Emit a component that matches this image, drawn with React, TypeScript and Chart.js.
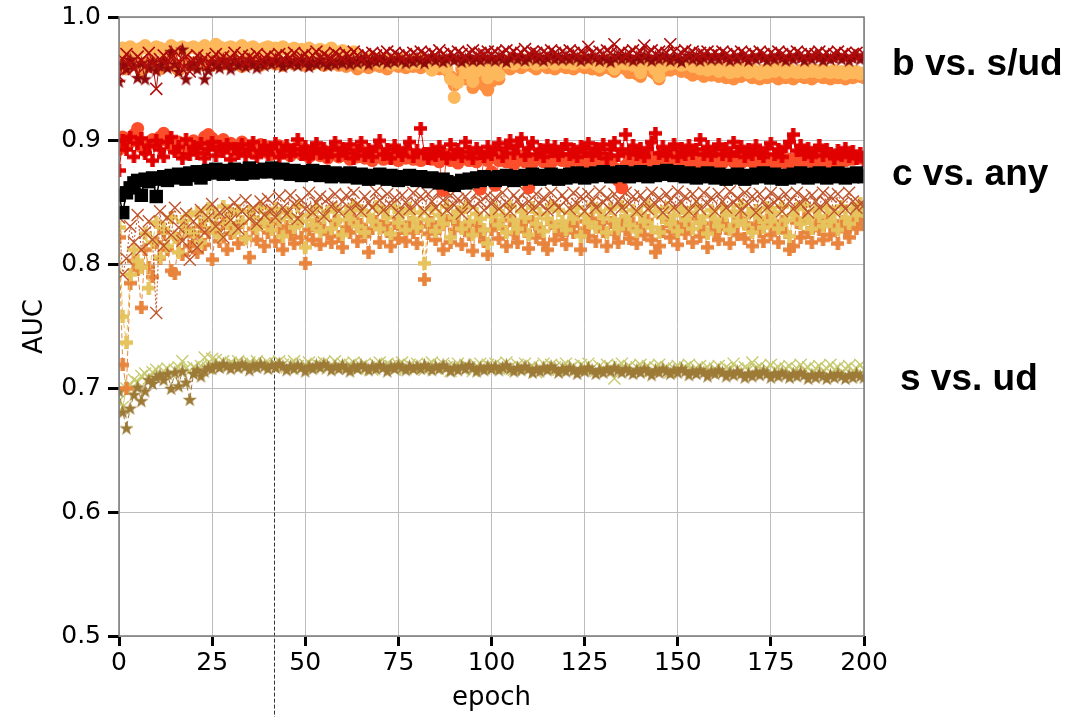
import React, { useEffect, useRef } from 'react';
import { Chart, registerables } from 'chart.js';
Chart.register(...registerables);

// ---------- data (AUC per epoch, epochs 0..200) ----------
const epochs: number[] = Array.from({ length: 201 }, (_, i) => i);

// b vs. s/ud
const bLightCircles = [
  0.968,0.975,0.973,0.976,0.974,0.972,0.975,0.977,0.974,0.973, 0.976,0.975,0.972,0.974,0.977,0.975,0.973,0.976,0.974,0.975,
  0.976,0.974,0.975,0.977,0.973,0.975,0.978,0.976,0.974,0.975, 0.976,0.973,0.975,0.977,0.974,0.975,0.976,0.974,0.973,0.975,
  0.976,0.974,0.975,0.973,0.976,0.974,0.972,0.975,0.973,0.974, 0.972,0.975,0.973,0.971,0.974,0.972,0.973,0.975,0.972,0.970,
  0.973,0.971,0.968,0.972,0.965,0.962,0.966,0.964,0.967,0.965, 0.963,0.966,0.964,0.962,0.965,0.963,0.966,0.964,0.962,0.965,
  0.963,0.966,0.964,0.962,0.957,0.963,0.961,0.964,0.958,0.950, 0.935,0.947,0.962,0.955,0.963,0.948,0.956,0.960,0.958,0.951,
  0.960,0.958,0.953,0.964,0.963,0.965,0.962,0.964,0.966,0.963, 0.965,0.964,0.962,0.965,0.963,0.966,0.964,0.962,0.965,0.964,
  0.963,0.965,0.962,0.964,0.966,0.963,0.965,0.964,0.962,0.960, 0.963,0.965,0.962,0.958,0.963,0.965,0.962,0.964,0.961,0.963,
  0.955,0.962,0.964,0.961,0.957,0.952,0.960,0.963,0.962,0.964, 0.963,0.961,0.962,0.964,0.960,0.962,0.958,0.960,0.957,0.959,
  0.958,0.956,0.959,0.957,0.955,0.958,0.956,0.959,0.957,0.955, 0.958,0.956,0.954,0.957,0.955,0.958,0.956,0.959,0.957,0.955,
  0.958,0.956,0.955,0.957,0.955,0.958,0.956,0.957,0.955,0.958, 0.956,0.955,0.957,0.955,0.956,0.954,0.957,0.955,0.956,0.954, 0.955,
];
const bDarkCircles = [
  0.960,0.963,0.958,0.962,0.965,0.961,0.956,0.963,0.960,0.964, 0.962,0.958,0.963,0.961,0.965,0.960,0.957,0.962,0.964,0.961,
  0.963,0.960,0.964,0.962,0.965,0.961,0.963,0.966,0.962,0.964, 0.961,0.965,0.963,0.960,0.964,0.962,0.965,0.963,0.961,0.964,
  0.963,0.965,0.962,0.964,0.961,0.963,0.965,0.962,0.964,0.963, 0.961,0.964,0.962,0.965,0.963,0.961,0.964,0.962,0.963,0.961,
  0.962,0.960,0.963,0.961,0.958,0.960,0.962,0.959,0.961,0.963, 0.960,0.962,0.958,0.961,0.963,0.960,0.962,0.959,0.961,0.960,
  0.962,0.959,0.961,0.963,0.960,0.962,0.958,0.961,0.957,0.952, 0.945,0.950,0.958,0.950,0.960,0.943,0.956,0.953,0.945,0.941,
  0.948,0.955,0.950,0.959,0.961,0.958,0.960,0.962,0.959,0.961, 0.963,0.960,0.958,0.961,0.962,0.959,0.961,0.958,0.960,0.962,
  0.959,0.961,0.958,0.960,0.962,0.959,0.961,0.958,0.960,0.957, 0.959,0.961,0.958,0.956,0.959,0.961,0.958,0.955,0.957,0.954,
  0.952,0.957,0.959,0.956,0.954,0.950,0.956,0.959,0.957,0.960, 0.958,0.956,0.958,0.955,0.953,0.956,0.954,0.952,0.955,0.953,
  0.954,0.952,0.955,0.951,0.953,0.950,0.954,0.952,0.955,0.953, 0.951,0.954,0.950,0.953,0.951,0.954,0.952,0.950,0.953,0.951,
  0.953,0.950,0.952,0.954,0.951,0.953,0.950,0.952,0.954,0.951, 0.953,0.950,0.952,0.951,0.953,0.950,0.952,0.951,0.953,0.952, 0.951,
];
const bDarkRedX = [
  0.952,0.966,0.970,0.962,0.958,0.968,0.965,0.960,0.971,0.963, 0.942,0.966,0.969,0.961,0.967,0.972,0.964,0.958,0.968,0.956,
  0.965,0.969,0.963,0.967,0.961,0.966,0.970,0.964,0.968,0.962, 0.967,0.971,0.965,0.969,0.963,0.968,0.966,0.970,0.964,0.967,
  0.969,0.965,0.968,0.970,0.966,0.969,0.967,0.971,0.965,0.968, 0.970,0.966,0.969,0.972,0.967,0.970,0.968,0.966,0.971,0.969,
  0.967,0.970,0.968,0.972,0.969,0.966,0.970,0.968,0.971,0.969, 0.967,0.970,0.972,0.968,0.971,0.969,0.967,0.970,0.968,0.971,
  0.969,0.972,0.970,0.968,0.971,0.969,0.973,0.970,0.968,0.971, 0.969,0.972,0.970,0.968,0.971,0.973,0.969,0.971,0.970,0.972,
  0.970,0.972,0.969,0.971,0.973,0.970,0.972,0.969,0.971,0.974, 0.970,0.972,0.971,0.969,0.972,0.970,0.973,0.971,0.969,0.972,
  0.970,0.973,0.971,0.969,0.972,0.970,0.976,0.971,0.969,0.972, 0.970,0.973,0.971,0.978,0.970,0.972,0.969,0.971,0.973,0.970,
  0.972,0.977,0.971,0.973,0.970,0.972,0.969,0.971,0.978,0.972, 0.969,0.971,0.973,0.970,0.972,0.969,0.971,0.970,0.972,0.969,
  0.971,0.969,0.972,0.970,0.968,0.971,0.969,0.972,0.970,0.968, 0.971,0.969,0.972,0.970,0.968,0.971,0.969,0.972,0.970,0.968,
  0.971,0.969,0.972,0.970,0.968,0.971,0.969,0.970,0.972,0.969, 0.971,0.968,0.970,0.972,0.969,0.971,0.968,0.970,0.971,0.969, 0.970,
];
const bDarkRedStars = [
  0.948,0.962,0.958,0.966,0.960,0.951,0.963,0.950,0.959,0.964, 0.957,0.961,0.965,0.959,0.972,0.962,0.956,0.974,0.950,0.961,
  0.963,0.958,0.965,0.950,0.957,0.964,0.961,0.959,0.966,0.962, 0.958,0.965,0.961,0.963,0.960,0.966,0.962,0.959,0.964,0.961,
  0.965,0.962,0.966,0.963,0.960,0.965,0.962,0.964,0.961,0.966, 0.963,0.960,0.964,0.962,0.966,0.963,0.961,0.965,0.962,0.964,
  0.963,0.966,0.962,0.965,0.963,0.967,0.964,0.962,0.966,0.964, 0.967,0.965,0.963,0.966,0.964,0.967,0.965,0.963,0.966,0.964,
  0.967,0.965,0.963,0.966,0.968,0.965,0.967,0.964,0.966,0.968, 0.965,0.967,0.964,0.966,0.968,0.965,0.967,0.965,0.968,0.966,
  0.967,0.965,0.968,0.966,0.964,0.967,0.969,0.966,0.968,0.965, 0.967,0.969,0.966,0.968,0.965,0.967,0.969,0.966,0.968,0.966,
  0.968,0.966,0.969,0.967,0.965,0.968,0.966,0.969,0.967,0.965, 0.968,0.966,0.964,0.967,0.969,0.966,0.968,0.967,0.965,0.968,
  0.966,0.969,0.967,0.965,0.968,0.966,0.969,0.967,0.965,0.968, 0.966,0.964,0.967,0.969,0.966,0.968,0.965,0.967,0.969,0.966,
  0.968,0.966,0.969,0.967,0.965,0.968,0.966,0.969,0.967,0.965, 0.968,0.966,0.969,0.967,0.965,0.968,0.966,0.969,0.967,0.965,
  0.968,0.966,0.969,0.967,0.965,0.968,0.966,0.969,0.967,0.965, 0.968,0.966,0.967,0.969,0.966,0.968,0.965,0.967,0.969,0.966, 0.968,
];

// c vs. any
const cRedCircles = [
  0.893,0.903,0.897,0.899,0.905,0.910,0.895,0.892,0.898,0.901, 0.897,0.903,0.906,0.900,0.896,0.893,0.899,0.891,0.897,0.894,
  0.900,0.896,0.893,0.903,0.905,0.902,0.899,0.896,0.901,0.894, 0.898,0.892,0.895,0.899,0.893,0.896,0.890,0.894,0.897,0.891,
  0.895,0.889,0.893,0.896,0.890,0.894,0.888,0.892,0.895,0.889, 0.893,0.887,0.891,0.894,0.888,0.892,0.886,0.890,0.893,0.887,
  0.891,0.888,0.885,0.890,0.887,0.892,0.886,0.889,0.884,0.888, 0.891,0.885,0.889,0.886,0.890,0.884,0.888,0.886,0.890,0.885,
  0.888,0.884,0.887,0.890,0.885,0.888,0.883,0.860,0.889,0.884, 0.887,0.882,0.886,0.889,0.884,0.887,0.883,0.861,0.888,0.884,
  0.875,0.864,0.884,0.887,0.883,0.886,0.881,0.885,0.888,0.883, 0.862,0.882,0.885,0.887,0.883,0.886,0.882,0.885,0.888,0.884,
  0.886,0.882,0.885,0.888,0.883,0.886,0.881,0.885,0.887,0.883, 0.886,0.882,0.885,0.878,0.868,0.862,0.880,0.885,0.882,0.886,
  0.883,0.885,0.881,0.886,0.884,0.887,0.882,0.885,0.883,0.886, 0.881,0.884,0.887,0.883,0.885,0.882,0.886,0.884,0.881,0.885,
  0.883,0.886,0.882,0.885,0.887,0.883,0.886,0.882,0.884,0.887, 0.883,0.885,0.882,0.886,0.884,0.881,0.885,0.883,0.886,0.882,
  0.885,0.883,0.886,0.882,0.884,0.887,0.883,0.885,0.882,0.886, 0.884,0.881,0.885,0.883,0.886,0.884,0.887,0.885,0.888,0.886, 0.887,
];
const cRedPlus = [
  0.876,0.900,0.893,0.903,0.887,0.898,0.902,0.890,0.896,0.884, 0.900,0.893,0.887,0.899,0.903,0.891,0.895,0.886,0.901,0.889,
  0.895,0.890,0.898,0.886,0.893,0.899,0.888,0.895,0.891,0.897, 0.885,0.894,0.890,0.897,0.888,0.893,0.899,0.887,0.892,0.896,
  0.889,0.894,0.898,0.887,0.892,0.896,0.888,0.893,0.901,0.889, 0.895,0.886,0.892,0.898,0.890,0.894,0.887,0.893,0.899,0.888,
  0.894,0.890,0.897,0.886,0.892,0.899,0.888,0.893,0.887,0.895, 0.900,0.889,0.893,0.886,0.896,0.891,0.888,0.894,0.899,0.887,
  0.892,0.910,0.890,0.886,0.893,0.888,0.895,0.890,0.886,0.897, 0.889,0.893,0.887,0.899,0.891,0.886,0.894,0.890,0.887,0.895,
  0.889,0.893,0.898,0.887,0.894,0.900,0.890,0.896,0.902,0.888, 0.894,0.899,0.889,0.893,0.887,0.896,0.891,0.895,0.888,0.894,
  0.897,0.889,0.893,0.887,0.895,0.891,0.898,0.888,0.894,0.890, 0.897,0.886,0.893,0.899,0.888,0.893,0.905,0.890,0.896,0.889,
  0.894,0.887,0.893,0.899,0.906,0.890,0.895,0.888,0.893,0.897, 0.887,0.894,0.889,0.896,0.890,0.893,0.901,0.889,0.895,0.888,
  0.893,0.897,0.889,0.894,0.888,0.899,0.891,0.895,0.887,0.893, 0.889,0.896,0.890,0.887,0.894,0.898,0.889,0.893,0.887,0.895,
  0.899,0.905,0.892,0.896,0.889,0.894,0.887,0.892,0.896,0.888, 0.893,0.890,0.886,0.892,0.888,0.894,0.887,0.891,0.886,0.890, 0.884,
];
const cBlackSquares = [
  0.856,0.842,0.858,0.862,0.866,0.868,0.856,0.869,0.867,0.870, 0.855,0.869,0.871,0.868,0.872,0.870,0.873,0.871,0.869,0.874,
  0.872,0.875,0.870,0.873,0.876,0.874,0.877,0.875,0.873,0.876, 0.874,0.877,0.875,0.873,0.876,0.878,0.874,0.876,0.875,0.877,
  0.875,0.878,0.876,0.874,0.877,0.875,0.873,0.876,0.874,0.872, 0.875,0.873,0.876,0.874,0.872,0.875,0.873,0.871,0.874,0.872,
  0.873,0.871,0.874,0.872,0.870,0.873,0.871,0.869,0.872,0.870, 0.873,0.871,0.869,0.872,0.870,0.868,0.871,0.869,0.872,0.870,
  0.868,0.871,0.869,0.867,0.870,0.868,0.866,0.869,0.867,0.865, 0.864,0.866,0.868,0.866,0.869,0.867,0.870,0.868,0.871,0.869,
  0.870,0.868,0.871,0.869,0.872,0.870,0.868,0.871,0.869,0.872, 0.870,0.873,0.871,0.869,0.872,0.870,0.873,0.871,0.869,0.872,
  0.870,0.873,0.871,0.874,0.872,0.870,0.873,0.871,0.874,0.872, 0.875,0.873,0.871,0.874,0.872,0.875,0.873,0.871,0.874,0.872,
  0.875,0.873,0.871,0.874,0.872,0.875,0.873,0.876,0.874,0.872, 0.875,0.873,0.871,0.874,0.872,0.870,0.873,0.871,0.874,0.872,
  0.870,0.873,0.871,0.869,0.872,0.870,0.873,0.871,0.869,0.872, 0.870,0.873,0.871,0.874,0.872,0.870,0.873,0.871,0.869,0.872,
  0.870,0.873,0.871,0.874,0.872,0.870,0.873,0.871,0.874,0.872, 0.870,0.873,0.871,0.874,0.872,0.870,0.873,0.871,0.874,0.872, 0.871,
];
const cBrownX = [
  0.838,0.792,0.805,0.831,0.818,0.840,0.812,0.826,0.835,0.820, 0.761,0.843,0.815,0.838,0.824,0.846,0.830,0.819,0.841,0.804,
  0.835,0.814,0.844,0.826,0.838,0.849,0.831,0.842,0.822,0.845, 0.836,0.850,0.829,0.843,0.852,0.837,0.846,0.833,0.851,0.840,
  0.853,0.844,0.838,0.855,0.846,0.841,0.856,0.849,0.837,0.852, 0.845,0.858,0.842,0.850,0.855,0.839,0.853,0.847,0.857,0.843,
  0.851,0.856,0.845,0.858,0.849,0.843,0.855,0.850,0.846,0.859, 0.852,0.844,0.857,0.848,0.854,0.842,0.856,0.850,0.845,0.858,
  0.849,0.855,0.843,0.857,0.851,0.846,0.859,0.852,0.844,0.856, 0.848,0.853,0.841,0.855,0.850,0.846,0.858,0.851,0.844,0.856,
  0.849,0.854,0.845,0.858,0.850,0.843,0.856,0.852,0.847,0.859, 0.851,0.845,0.857,0.849,0.854,0.844,0.858,0.850,0.846,0.856,
  0.852,0.845,0.858,0.849,0.855,0.843,0.857,0.851,0.846,0.859, 0.850,0.854,0.844,0.857,0.851,0.846,0.858,0.849,0.855,0.843,
  0.856,0.851,0.845,0.858,0.849,0.854,0.842,0.857,0.852,0.846, 0.859,0.850,0.855,0.843,0.857,0.851,0.845,0.858,0.849,0.854,
  0.843,0.857,0.851,0.846,0.859,0.850,0.854,0.844,0.858,0.849, 0.855,0.842,0.857,0.851,0.846,0.858,0.850,0.854,0.843,0.857,
  0.851,0.845,0.858,0.849,0.854,0.842,0.856,0.851,0.846,0.858, 0.850,0.855,0.843,0.857,0.849,0.845,0.858,0.851,0.846,0.849, 0.848,
];
const cYellowPlus = [
  0.830,0.758,0.737,0.792,0.812,0.803,0.798,0.825,0.781,0.818, 0.834,0.806,0.829,0.815,0.838,0.822,0.810,0.835,0.827,0.840,
  0.826,0.842,0.818,0.836,0.845,0.829,0.839,0.823,0.847,0.833, 0.841,0.826,0.844,0.835,0.821,0.843,0.838,0.829,0.846,0.834,
  0.841,0.828,0.845,0.836,0.823,0.842,0.839,0.830,0.847,0.835, 0.814,0.840,0.832,0.846,0.827,0.838,0.843,0.829,0.845,0.836,
  0.824,0.842,0.837,0.848,0.831,0.844,0.826,0.840,0.835,0.847, 0.829,0.843,0.838,0.825,0.846,0.834,0.841,0.828,0.845,0.837,
  0.830,0.842,0.801,0.836,0.845,0.827,0.840,0.833,0.847,0.822, 0.838,0.843,0.829,0.846,0.835,0.824,0.841,0.837,0.828,0.817,
  0.839,0.845,0.832,0.840,0.826,0.847,0.836,0.829,0.843,0.838, 0.824,0.846,0.833,0.841,0.827,0.837,0.848,0.831,0.844,0.835,
  0.828,0.842,0.837,0.846,0.823,0.840,0.834,0.848,0.830,0.843, 0.838,0.826,0.845,0.836,0.829,0.847,0.839,0.832,0.844,0.827,
  0.841,0.835,0.848,0.830,0.843,0.826,0.838,0.846,0.833,0.840, 0.827,0.845,0.836,0.842,0.829,0.847,0.834,0.839,0.825,0.844,
  0.837,0.831,0.846,0.840,0.828,0.843,0.835,0.848,0.832,0.841, 0.826,0.844,0.838,0.830,0.846,0.835,0.842,0.829,0.847,0.836,
  0.823,0.840,0.845,0.833,0.848,0.837,0.829,0.844,0.839,0.831, 0.846,0.835,0.842,0.828,0.847,0.838,0.833,0.845,0.840,0.849, 0.843,
];
const cOrangePlus = [
  0.822,0.719,0.700,0.785,0.803,0.796,0.765,0.812,0.798,0.790, 0.818,0.805,0.826,0.812,0.795,0.793,0.821,0.808,0.829,0.815,
  0.823,0.810,0.831,0.816,0.826,0.804,0.828,0.819,0.833,0.812, 0.825,0.830,0.817,0.834,0.822,0.806,0.829,0.820,0.832,0.815,
  0.826,0.833,0.819,0.828,0.812,0.831,0.824,0.817,0.834,0.822, 0.801,0.828,0.820,0.833,0.816,0.829,0.825,0.818,0.835,0.823,
  0.814,0.830,0.826,0.837,0.819,0.832,0.823,0.810,0.829,0.835, 0.818,0.831,0.827,0.815,0.833,0.821,0.829,0.819,0.834,0.826,
  0.817,0.831,0.788,0.825,0.834,0.820,0.829,0.812,0.836,0.818, 0.828,0.833,0.816,0.830,0.824,0.811,0.832,0.826,0.819,0.808,
  0.828,0.834,0.821,0.830,0.815,0.836,0.825,0.818,0.832,0.827, 0.813,0.835,0.822,0.829,0.817,0.812,0.833,0.820,0.831,0.824,
  0.816,0.832,0.826,0.835,0.812,0.829,0.823,0.837,0.819,0.831, 0.827,0.815,0.834,0.825,0.818,0.836,0.828,0.821,0.833,0.817,
  0.830,0.824,0.836,0.820,0.810,0.815,0.827,0.835,0.822,0.829, 0.816,0.834,0.825,0.831,0.818,0.837,0.823,0.828,0.814,0.833,
  0.826,0.820,0.835,0.829,0.817,0.832,0.824,0.837,0.821,0.830, 0.815,0.833,0.827,0.819,0.836,0.824,0.831,0.818,0.835,0.826,
  0.812,0.815,0.834,0.822,0.837,0.826,0.818,0.833,0.828,0.820, 0.836,0.824,0.831,0.817,0.835,0.827,0.822,0.834,0.829,0.838, 0.832,
];

// s vs. ud
const sLightX = [
  0.690,0.685,0.700,0.703,0.707,0.705,0.710,0.712,0.708,0.713, 0.715,0.711,0.714,0.716,0.712,0.715,0.717,0.722,0.716,0.714,
  0.717,0.715,0.718,0.725,0.716,0.724,0.723,0.720,0.722,0.718, 0.721,0.719,0.722,0.720,0.717,0.721,0.719,0.722,0.718,0.720,
  0.721,0.718,0.720,0.722,0.719,0.717,0.720,0.722,0.718,0.716, 0.719,0.721,0.717,0.720,0.718,0.721,0.716,0.719,0.722,0.718,
  0.720,0.717,0.719,0.721,0.716,0.718,0.720,0.717,0.715,0.719, 0.721,0.717,0.720,0.718,0.715,0.719,0.721,0.716,0.719,0.717,
  0.720,0.717,0.715,0.719,0.721,0.716,0.718,0.720,0.717,0.714, 0.718,0.720,0.716,0.719,0.717,0.714,0.718,0.720,0.716,0.719,
  0.717,0.720,0.716,0.718,0.721,0.717,0.715,0.719,0.717,0.720, 0.716,0.718,0.713,0.717,0.720,0.716,0.719,0.717,0.715,0.718,
  0.720,0.716,0.718,0.715,0.719,0.717,0.720,0.716,0.714,0.718, 0.716,0.719,0.717,0.708,0.718,0.720,0.716,0.718,0.715,0.717,
  0.719,0.716,0.718,0.714,0.717,0.719,0.715,0.717,0.713,0.716, 0.718,0.715,0.717,0.719,0.714,0.716,0.718,0.715,0.717,0.713,
  0.716,0.718,0.714,0.717,0.715,0.720,0.716,0.714,0.717,0.715, 0.721,0.716,0.718,0.714,0.716,0.719,0.715,0.717,0.713,0.716,
  0.718,0.714,0.716,0.719,0.715,0.717,0.713,0.716,0.718,0.714, 0.716,0.719,0.715,0.717,0.713,0.716,0.718,0.714,0.716,0.719, 0.715,
];
const sOliveStars = [
  0.698,0.681,0.668,0.684,0.695,0.701,0.690,0.698,0.707,0.704, 0.709,0.711,0.707,0.712,0.700,0.713,0.702,0.714,0.705,0.691,
  0.712,0.715,0.710,0.714,0.717,0.716,0.719,0.717,0.720,0.718, 0.716,0.719,0.717,0.720,0.718,0.715,0.719,0.717,0.720,0.718,
  0.716,0.719,0.717,0.720,0.718,0.715,0.718,0.716,0.719,0.717, 0.714,0.718,0.716,0.719,0.717,0.720,0.718,0.715,0.718,0.716,
  0.719,0.716,0.714,0.718,0.716,0.719,0.717,0.715,0.718,0.716, 0.719,0.717,0.714,0.718,0.716,0.719,0.717,0.715,0.718,0.716,
  0.718,0.716,0.719,0.717,0.715,0.718,0.716,0.719,0.717,0.714, 0.717,0.715,0.718,0.716,0.719,0.717,0.714,0.717,0.715,0.718,
  0.716,0.718,0.715,0.717,0.719,0.716,0.714,0.717,0.715,0.718, 0.716,0.713,0.716,0.714,0.717,0.715,0.718,0.716,0.713,0.716,
  0.714,0.717,0.715,0.712,0.716,0.714,0.717,0.715,0.712,0.715, 0.713,0.716,0.714,0.717,0.715,0.713,0.716,0.714,0.712,0.715,
  0.713,0.716,0.714,0.711,0.715,0.713,0.716,0.714,0.712,0.715, 0.713,0.716,0.714,0.711,0.714,0.712,0.715,0.713,0.710,0.714,
  0.712,0.715,0.713,0.710,0.713,0.711,0.714,0.712,0.709,0.712, 0.710,0.713,0.711,0.714,0.712,0.709,0.712,0.710,0.713,0.711,
  0.709,0.712,0.710,0.713,0.711,0.708,0.711,0.709,0.712,0.710, 0.708,0.711,0.709,0.712,0.710,0.708,0.711,0.709,0.712,0.710, 0.709,
];

const groupLabels = ['b vs. s/ud', 'c vs. any', 's vs. ud'];
const groupLabelValues = [0.953, 0.864, 0.699];
const bestEpoch = 41.5;
const bestEpochTop = 0.968;
const yTicks = [0.5, 0.6, 0.7, 0.8, 0.9, 1.0];

// ---------- marker images ----------
function plusMarker(color: string, size: number, arm: number) {
  const c = document.createElement('canvas');
  c.width = size; c.height = size;
  const g = c.getContext('2d')!;
  g.fillStyle = color;
  const m = size / 2, h = arm / 2;
  g.fillRect(m - h, 0, arm, size);
  g.fillRect(0, m - h, size, arm);
  return c;
}
function starMarker(color: string, size: number) {
  const c = document.createElement('canvas');
  c.width = size; c.height = size;
  const g = c.getContext('2d')!;
  g.fillStyle = color;
  const cx = size / 2, cy = size / 2 + 0.6, R = size / 2, r = R * 0.4;
  g.beginPath();
  for (let k = 0; k < 10; k++) {
    const rad = k % 2 === 0 ? R : r;
    const a = -Math.PI / 2 + (k * Math.PI) / 5;
    const px = cx + rad * Math.cos(a), py = cy + rad * Math.sin(a);
    if (k === 0) g.moveTo(px, py); else g.lineTo(px, py);
  }
  g.closePath();
  g.fill();
  return c;
}

const toXY = (vals: number[]) => vals.map((y, i) => ({ x: epochs[i], y }));

export default function App() {
  const ref = useRef<HTMLCanvasElement | null>(null);
  useEffect(() => {
    if (!ref.current) return;
    const base = { showLine: true, clip: 0, fill: false, tension: 0, borderWidth: 1 } as any;

    const datasets: any[] = [
      { ...base, label: 'c black', data: toXY(cBlackSquares), borderColor: '#000', borderWidth: 1.5,
        pointStyle: 'rect', pointRadius: 9.5, pointBackgroundColor: '#000', pointBorderWidth: 0 },
      { ...base, label: 'c red plus', data: toXY(cRedPlus), borderColor: '#e00000',
        pointStyle: plusMarker('#e00000', 13, 4.5), pointRadius: 6 },
      { ...base, label: 'c red circles', data: toXY(cRedCircles), borderColor: '#fc4e2a',
        pointStyle: 'circle', pointRadius: 6.5, pointBackgroundColor: '#fc4e2a', pointBorderWidth: 0 },
      { ...base, label: 'b x', data: toXY(bDarkRedX), borderColor: '#b00c0c',
        pointStyle: 'crossRot', pointRadius: 8.5, pointBorderColor: '#b00c0c', pointBorderWidth: 1.6 },
      { ...base, label: 'b stars', data: toXY(bDarkRedStars), borderColor: '#8e0a0a',
        pointStyle: starMarker('#8e0a0a', 15), pointRadius: 6 },
      { ...base, label: 'b light', data: toXY(bLightCircles), borderColor: '#feb85c',
        pointStyle: 'circle', pointRadius: 6.5, pointBackgroundColor: '#feb85c', pointBorderWidth: 0 },
      { ...base, label: 'b dark', data: toXY(bDarkCircles), borderColor: '#fd8f40',
        pointStyle: 'circle', pointRadius: 6.5, pointBackgroundColor: '#fd8f40', pointBorderWidth: 0 },
      { ...base, label: 'c brown x', data: toXY(cBrownX), borderColor: '#bf552c', borderDash: [2, 2],
        pointStyle: 'crossRot', pointRadius: 8.5, pointBorderColor: '#bf552c', pointBorderWidth: 1.4 },
      { ...base, label: 'c yellow plus', data: toXY(cYellowPlus), borderColor: '#e6c35c', borderDash: [5, 3],
        pointStyle: plusMarker('#e6c35c', 13, 4.5), pointRadius: 6 },
      { ...base, label: 'c orange plus', data: toXY(cOrangePlus), borderColor: '#e8843c', borderDash: [5, 3],
        pointStyle: plusMarker('#e8843c', 13, 4.5), pointRadius: 6 },
      { ...base, label: 's stars', data: toXY(sOliveStars), borderColor: '#9d7b37', borderDash: [5, 3],
        pointStyle: starMarker('#9d7b37', 15), pointRadius: 6 },
      { ...base, label: 's x', data: toXY(sLightX), borderColor: '#c8cb70',
        pointStyle: 'crossRot', pointRadius: 8.5, pointBorderColor: '#c8cb70', pointBorderWidth: 1.4 },
    ];

    const decor = {
      id: 'decor',
      beforeDatasetsDraw(chart: any) {
        const { ctx, scales } = chart;
        const x = Math.round(scales.x.getPixelForValue(bestEpoch)) + 0.5;
        const yTop = scales.y.getPixelForValue(bestEpochTop);
        ctx.save();
        ctx.strokeStyle = '#333';
        ctx.lineWidth = 1;
        ctx.setLineDash([4, 2]);
        ctx.beginPath();
        ctx.moveTo(x, yTop);
        ctx.lineTo(x, chart.height);
        ctx.stroke();
        ctx.restore();
      },
      afterDatasetsDraw(chart: any) {
        const { ctx, chartArea: a, scales } = chart;
        ctx.save();
        ctx.strokeStyle = '#7a7a7a';
        ctx.lineWidth = 1.5;
        ctx.strokeRect(a.left, a.top, a.right - a.left, a.bottom - a.top);
        ctx.fillStyle = '#000';
        ctx.font = 'bold 37px "Liberation Sans", Arial, sans-serif';
        ctx.textBaseline = 'alphabetic';
        ctx.textAlign = 'left';
        const xOff = [28, 28, 36];
        groupLabels.forEach((t, i) => {
          ctx.fillText(t, a.right + xOff[i], scales.y.getPixelForValue(groupLabelValues[i]));
        });
        ctx.restore();
      },
    };

    const chart = new Chart(ref.current, {
      type: 'line',
      data: { datasets },
      plugins: [decor],
      options: {
        animation: false,
        responsive: false,
        devicePixelRatio: 1,
        events: [],
        layout: { padding: { left: 0, top: 17, right: 205, bottom: 0 } },
        plugins: { legend: { display: false }, tooltip: { enabled: false } },
        scales: {
          x: {
            type: 'linear', min: 0, max: 200,
            ticks: { stepSize: 25, color: '#000', font: { family: "'DejaVu Sans'", size: 25 }, padding: 2, maxRotation: 0, autoSkip: false },
            grid: { color: '#bdbdbd', lineWidth: 1, tickColor: '#000', tickWidth: 3, tickLength: 10 },
            border: { display: false },
            title: { display: true, text: 'epoch', color: '#000', font: { family: "'DejaVu Sans'", size: 26 }, padding: { top: 0, bottom: 3 } },
            afterFit: (s: any) => { s.height = 81; s.paddingLeft = 0; s.paddingRight = 0; },
          },
          y: {
            type: 'linear', min: 0.5, max: 1.0,
            afterBuildTicks: (s: any) => { s.ticks = yTicks.map((v) => ({ value: v })); },
            ticks: { color: '#000', font: { family: "'DejaVu Sans'", size: 25 }, padding: 7,
              callback: (v: any) => Number(v).toFixed(1) },
            grid: { color: '#bdbdbd', lineWidth: 1, tickColor: '#000', tickWidth: 3, tickLength: 11 },
            border: { display: false },
            title: { display: true, text: 'AUC', color: '#000', font: { family: "'DejaVu Sans'", size: 26 }, padding: { top: 20, bottom: 0 } },
            afterFit: (s: any) => { s.width = 119; s.paddingTop = 0; s.paddingBottom = 0; },
          },
        },
      } as any,
    });
    return () => chart.destroy();
  }, []);

  return (
    <div style={{ position: 'fixed', left: 0, top: 0, width: 1069, height: 717, background: '#fff' }}>
      <canvas ref={ref} width={1069} height={717} style={{ display: 'block' }} />
    </div>
  );
}
